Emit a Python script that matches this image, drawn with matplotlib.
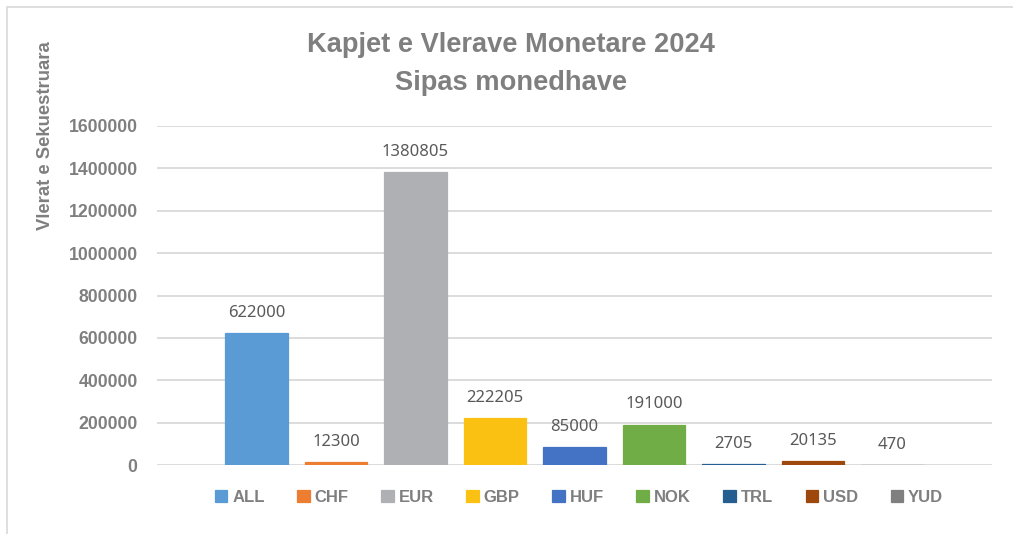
import matplotlib.pyplot as plt
from matplotlib.patches import Rectangle

# Të dhënat
monedhat = ["ALL", "CHF", "EUR", "GBP", "HUF", "NOK", "TRL", "USD", "YUD"]
vlerat = [622000, 12300, 1380805, 222205, 85000, 191000, 2705, 20135, 470]
ngjyrat = ["#5B9BD5", "#ED7D31", "#AFB0B3", "#FBC112", "#4472C4",
           "#70AD47", "#255E91", "#9E480E", "#7F7F7F"]

plt.rcParams['font.family'] = ['Liberation Sans', 'DejaVu Sans']
gri = "#7F7F7F"

fig = plt.figure(figsize=(10.13, 5.34), dpi=100)
ax = fig.add_axes([157 / 1013, 1 - 465 / 534, (992 - 157) / 1013, (465 - 126) / 534])

# kornizë e grafikut
fig.patches.append(Rectangle((7 / 1013, -0.1), 1.2, 1.1 - 7 / 534, transform=fig.transFigure,
                             fill=False, edgecolor="#D9D9D9", linewidth=1.2))

for i, (m, v, c) in enumerate(zip(monedhat, vlerat, ngjyrat)):
    ax.bar(i, v, width=0.79, color=c, edgecolor=c, linewidth=0.9, label=m, zorder=3)
    ax.annotate(str(v), (i, v), xytext=(0, 14.5), textcoords="offset points",
                ha="center", va="center", fontsize=12, color="#595959",
                family=["Noto Sans", "DejaVu Sans"])

ax.set_xlim(-1.253, 9.253)
ax.set_ylim(0, 1600000)
ax.set_yticks(range(0, 1600001, 200000))
ax.set_yticklabels([str(t) for t in range(0, 1600001, 200000)],
                   fontsize=12.7, fontweight="bold", color=gri)
ax.tick_params(axis="y", length=0, pad=14)
ax.set_xticks([])
ax.grid(axis="y", color="#D9D9D9", linewidth=1.3, zorder=0)
for s in ax.spines.values():
    s.set_visible(False)

fig.text(511 / 1013, 1 - 45 / 534, "Kapjet e Vlerave Monetare 2024", ha="center", va="center",
         fontsize=19.6, fontweight="bold", color=gri)
fig.text(511 / 1013, 1 - 83 / 534, "Sipas monedhave", ha="center", va="center",
         fontsize=19.6, fontweight="bold", color=gri)
fig.text(45 / 1013, 1 - 136 / 534, "Vlerat e Sekuestruara", rotation=90, ha="center", va="center",
         fontsize=13.3, fontweight="bold", color=gri)

fig.legend(loc="center", bbox_to_anchor=(579 / 1013, 1 - 497 / 534), ncol=9, frameon=False,
           handlelength=0.75, handleheight=0.75, handletextpad=0.3, columnspacing=1.95,
           prop={"size": 12, "weight": "bold"}, labelcolor=gri)

plt.savefig("out.png", dpi=100)
